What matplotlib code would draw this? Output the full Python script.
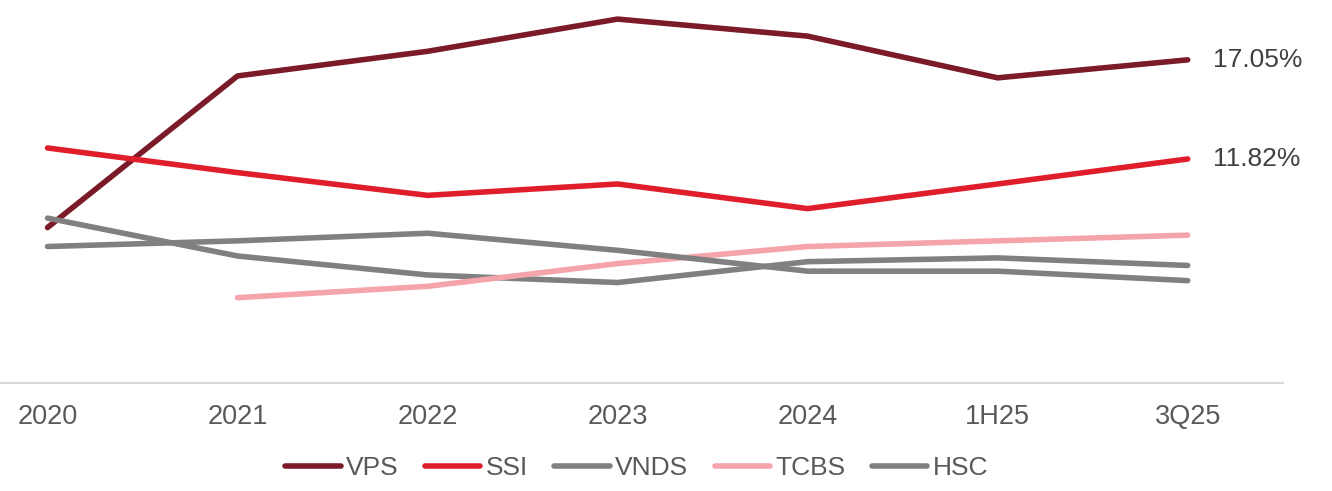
import numpy as np
import matplotlib.pyplot as plt

plt.rcParams['font.family'] = ['Liberation Sans', 'DejaVu Sans']

periods = ['2020', '2021', '2022', '2023', '2024', '1H25', '3Q25']
vps = [8.2, 16.2, 17.5, 19.2, 18.3, 16.1, 17.05]
ssi = [12.4, 11.1, 9.9, 10.5, 9.2, 10.5, 11.82]
vnds = [8.7, 6.7, 5.7, 5.3, 6.4, 6.6, 6.2]
tcbs = [np.nan, 4.5, 5.1, 6.3, 7.2, 7.5, 7.8]
hsc = [7.2, 7.5, 7.9, 7.0, 5.9, 5.9, 5.4]

names = ['VPS', 'SSI', 'VNDS', 'TCBS', 'HSC']
series = [vps, ssi, vnds, tcbs, hsc]
colors = ['#7B1A28', '#E01E2B', '#808080', '#F4A4AA', '#808080']

fig = plt.figure(figsize=(13.32, 4.91), dpi=100)
ax = fig.add_axes([0.0, 0.22, 0.963, 0.772])

x = np.arange(len(periods))
for name, vals, c in zip(names, series, colors):
    ax.plot(x, vals, color=c, lw=4, solid_capstyle='round',
            solid_joinstyle='round', label=name)

# end labels
for vals in [vps, ssi]:
    ax.annotate(f'{vals[-1]:.2f}%', (x[-1], vals[-1]), xytext=(18, 0),
                textcoords='offset points', va='center', ha='left',
                fontsize=19, color='#404040')

ax.set_xlim(-0.25, 6.5)
ax.set_ylim(0, 20)
ax.set_xticks(x)
ax.set_xticklabels(periods, fontsize=19.5, color='#595959')
ax.tick_params(axis='x', length=0, pad=15)
ax.set_yticks([])
for s in ['top', 'right', 'left']:
    ax.spines[s].set_visible(False)
ax.spines['bottom'].set_color('#D9D9D9')
ax.spines['bottom'].set_linewidth(1.5)

fig.legend(loc='center', bbox_to_anchor=(0.478, 0.047), ncol=5, frameon=False,
           fontsize=19, labelcolor='#595959', handlelength=2.1,
           handletextpad=0.2, columnspacing=1.0)

fig.savefig('out.png', dpi=100)
